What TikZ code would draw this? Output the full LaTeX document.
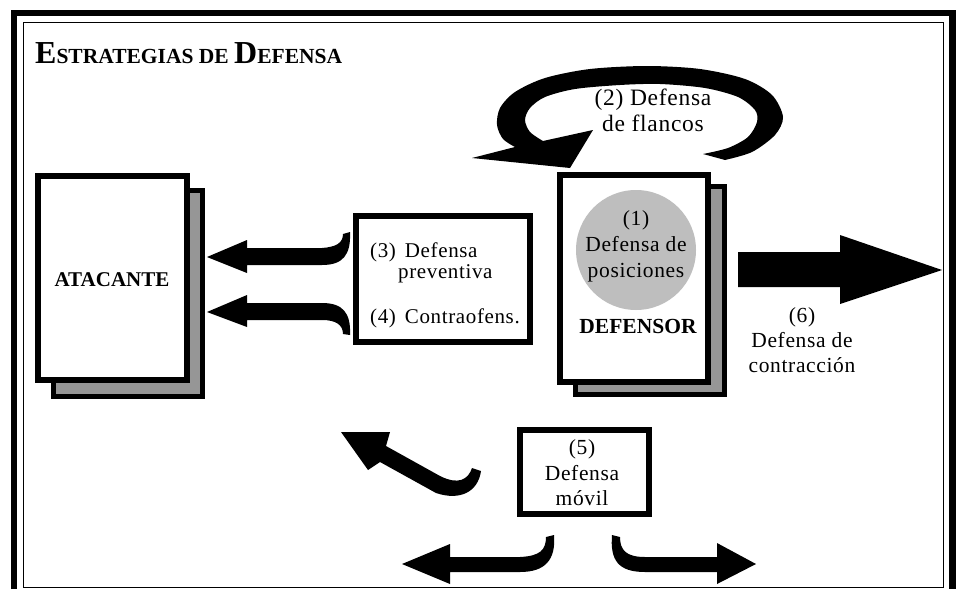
\documentclass[tikz,border=0pt]{standalone}
\usepackage{fontspec}
\setmainfont{Liberation Serif}
\newfontfamily\lsfont[LetterSpace=3]{Liberation Serif}
\definecolor{shadowgray}{RGB}{150,150,150}
\definecolor{circgray}{RGB}{190,190,190}
\begin{document}
\begin{tikzpicture}[x=1pt,y=-1pt,
  frontbox/.style={draw=black, line width=6pt, fill=white, inner sep=0pt, rectangle},
  shadowbox/.style={draw=black, line width=5pt, fill=shadowgray, inner sep=0pt, rectangle},
  lbl/.style={font=\lsfont\fontsize{21.5}{26}\selectfont, align=center, inner sep=0pt},
  lbll/.style={font=\lsfont\fontsize{21}{25}\selectfont, anchor=base west, inner sep=0pt},
  bold/.style={font=\bfseries\fontsize{21}{25}\selectfont, inner sep=0pt},
  blockarrow/.style={fill=black, draw=none}]
\useasboundingbox (0,0) rectangle (960,589);
% frame
\draw[line width=6.5pt] (14,589) -- (14,13) -- (952.5,13) -- (952.5,589);
\draw[line width=1.5pt] (23.5,22.5) rectangle (943.5,587.5);
% title
\node[anchor=base west, inner sep=0pt, font=\bfseries] (title) at (35,63)
  {\fontsize{32}{32}\selectfont E\fontsize{21.5}{21.5}\selectfont STRATEGIAS DE \fontsize{32}{32}\selectfont D\fontsize{21.5}{21.5}\selectfont EFENSA};
% atacante
\node[shadowbox, minimum width=149pt, minimum height=206pt] (ataqsh) at (127.5,293) {};
\node[frontbox, minimum width=149pt, minimum height=204pt] (ataq) at (112.5,278) {};
\node[bold] (ataqtxt) at (112,280) {ATACANTE};
% defensor
\node[shadowbox, minimum width=149pt, minimum height=208pt] (defsh) at (649.5,290) {};
\node[frontbox, minimum width=148pt, minimum height=207pt] (def) at (634,278.5) {};
\node[circle, fill=circgray, minimum size=120pt, inner sep=0pt] (pos) at (636,250) {};
\node[lbl] (postxt) at (636,246) {(1)\\Defensa de\\posiciones};
\node[bold, font=\bfseries\fontsize{21.5}{25}\selectfont] (deftxt) at (638,326) {DEFENSOR};
% middle box
\node[frontbox, minimum width=174pt, minimum height=126pt] (mid) at (443,279) {};
\node[lbll] (t3) at (370,257) {(3)\hspace{9pt}Defensa};
\node[lbll] (t3b) at (398,278) {preventiva};
\node[lbll] (t4) at (370,323) {(4)\hspace{9pt}Contraofens.};
% box 5
\node[frontbox, line width=5.5pt, minimum width=129pt, minimum height=84pt] (movil) at (584.5,472) {};
\node[lbl, font=\lsfont\fontsize{21.5}{25.5}\selectfont] (moviltxt) at (582,473) {(5)\\Defensa\\móvil};
% (6)
\node[lbl, font=\lsfont\fontsize{21.5}{25}\selectfont] (contr) at (802,340) {(6)\\Defensa de\\contracción};
% (2)
\node[lbl, font=\lsfont\fontsize{23.5}{26}\selectfont] (flanc) at (653,110) {(2) Defensa\\de flancos};
% arrow 6
\fill[blockarrow] (738,252) -- (840,252) -- (840,235) -- (942,270) -- (840,304) -- (840,287) -- (738,287) -- cycle;
% arrow 3
\fill[blockarrow] (207,257) -- (247,240) -- (247,248) -- (322,248)
  .. controls (336,247) and (343,243) .. (343,234) -- (350,232)
  .. controls (351,255) and (343,265) .. (322,265) -- (247,265) -- (247,273) -- cycle;
% arrow 4
\fill[blockarrow] (207,312) -- (247,295) -- (247,303) -- (322,303)
  .. controls (343,303) and (351,313) .. (350,335) -- (343,334)
  .. controls (343,325) and (336,320) .. (322,320) -- (247,320) -- (247,327) -- cycle;
% arrow 5 up-left
\fill[blockarrow] (341,432) -- (390,432) -- (386,446) -- (440,476)
  .. controls (458,485) and (468,480) .. (472,468) -- (481,471)
  .. controls (478,492) and (460,501) .. (436,493) -- (380,462) -- (368,470) -- cycle;
% arrow 5 bottom-left
\fill[blockarrow] (402,564) -- (450,544) -- (450,557) -- (520,557)
  .. controls (540,556) and (546,550) .. (546,537) -- (554,535)
  .. controls (556,560) and (545,572) .. (520,572) -- (450,572) -- (450,584) -- cycle;
% arrow 5 bottom-right
\fill[blockarrow] (612,535) -- (620,537) .. controls (620,550) and (626,557) .. (645,557)
  -- (717,557) -- (717,543) -- (756,564) -- (717,584) -- (717,572) -- (645,572)
  .. controls (618,572) and (610,560) .. (612,535) -- cycle;
% arrow 2 (flanks)
\fill[blockarrow] (725,160) -- plot[smooth] coordinates {(725,160) (752,152) (775,135) (783,117) (772,95) (745,79) (700,69) (647,66) (590,69) (545,78) (515,92) (500,108) (497,125) (503,139) (515,147)}
  -- (472,158) -- (570,168) -- (593,130) -- (543,141)
  -- plot[smooth] coordinates {(543,141) (530,132) (525,120) (530,108) (545,97) (575,89) (620,85) (660,84) (705,88) (738,97) (755,110) (757,122) (748,137) (728,148) (703,154)}
  -- cycle;
\end{tikzpicture}
\end{document}
